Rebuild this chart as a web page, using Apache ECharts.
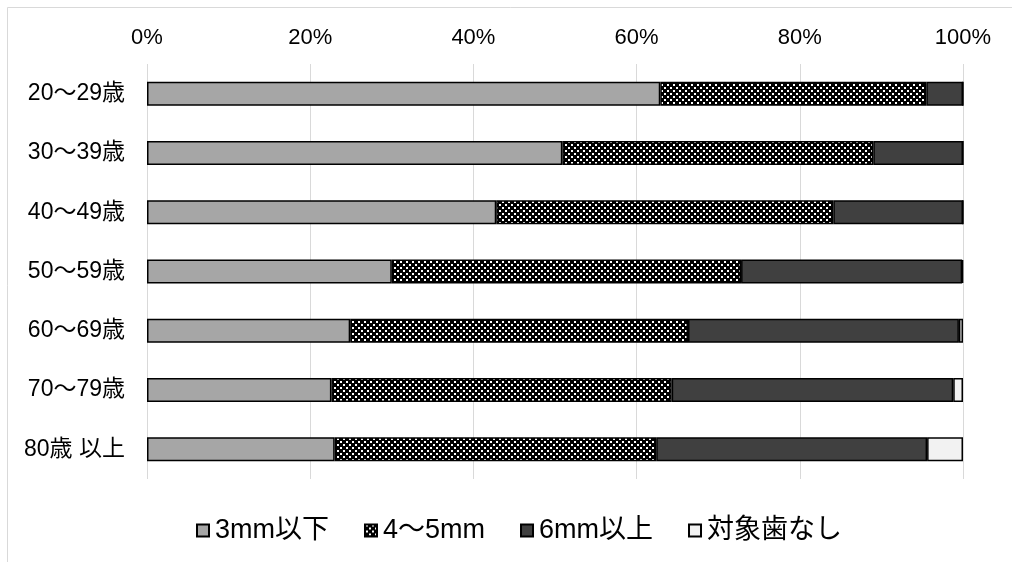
<!DOCTYPE html>
<html><head><meta charset="utf-8">
<script src="https://cdn.jsdelivr.net/npm/echarts@6/dist/echarts.min.js"></script>
<style>html,body{margin:0;padding:0;background:#fff}#c{width:1012px;height:562px}</style>
</head><body><div id="c"></div>
<script>
const categories = ['20〜29歳','30〜39歳','40〜49歳','50〜59歳','60〜69歳','70〜79歳','80歳 以上'];
const seriesNames = ['3mm以下','4〜5mm','6mm以上','対象歯なし'];
const s3mm = [62.9, 50.9, 42.8, 30.0, 24.9, 22.6, 23.0];
const s4to5 = [32.6, 38.1, 41.3, 42.8, 41.4, 41.7, 39.4];
const s6mm = [4.5, 11.0, 15.9, 27.1, 33.2, 34.5, 33.2];
const sNone = [0, 0, 0, 0.1, 0.5, 1.2, 4.4];
const xTicks = [0, 20, 40, 60, 80, 100];

function makePattern(){
  const c = document.createElement('canvas');
  c.width = 6; c.height = 6;
  const g = c.getContext('2d');
  g.fillStyle = '#000'; g.fillRect(0,0,6,6);
  g.fillStyle = '#fff';
  g.fillRect(1,0,2,2);
  g.fillRect(4,3,2,2);
  return c;
}
const pat = {image: makePattern(), repeat: 'repeat'};

const font = '"Liberation Sans", "Noto Sans CJK JP", sans-serif';
const chart = echarts.init(document.getElementById('c'));
const colors = ['#a6a6a6', pat, '#404040', '#f2f2f2'];
const data = [s3mm, s4to5, s6mm, sNone];
chart.setOption({
  animation: false,
  backgroundColor: '#fff',
  textStyle: {fontFamily: font},
  grid: {left: 147, right: 49, top: 64, bottom: 83},
  graphic: [{type: 'rect', shape: {x: 7.5, y: 7.5, width: 1010, height: 560}, style: {fill: 'none', stroke: '#d9d9d9', lineWidth: 1}, silent: true, z: -10}],
  xAxis: {
    type: 'value', position: 'top', min: xTicks[0], max: xTicks[xTicks.length-1], interval: 20,
    axisLine: {show: false}, axisTick: {show: false},
    splitLine: {lineStyle: {color: '#d9d9d9', width: 1}},
    axisLabel: {formatter: v => v + '%', color: '#000', fontSize: 22, fontFamily: font, margin: 15}
  },
  yAxis: {
    type: 'category', data: categories, inverse: true,
    axisLine: {show: false}, axisTick: {show: false},
    axisLabel: {color: '#000', fontSize: 23, fontFamily: font, margin: 22}
  },
  legend: {
    top: 517, left: 196, padding: 0, itemWidth: 12, itemHeight: 12, itemGap: 35, icon: 'rect',
    textStyle: {color: '#000', fontSize: 27, fontFamily: font, padding: [0,0,0,1]},
    data: seriesNames
  },
  series: seriesNames.map((n, i) => ({
    name: n, type: 'bar', stack: 'all', barWidth: 24,
    data: data[i],
    itemStyle: {color: colors[i], borderColor: '#000', borderWidth: 1.5},
    emphasis: {disabled: true}
  }))
});
</script></body></html>
